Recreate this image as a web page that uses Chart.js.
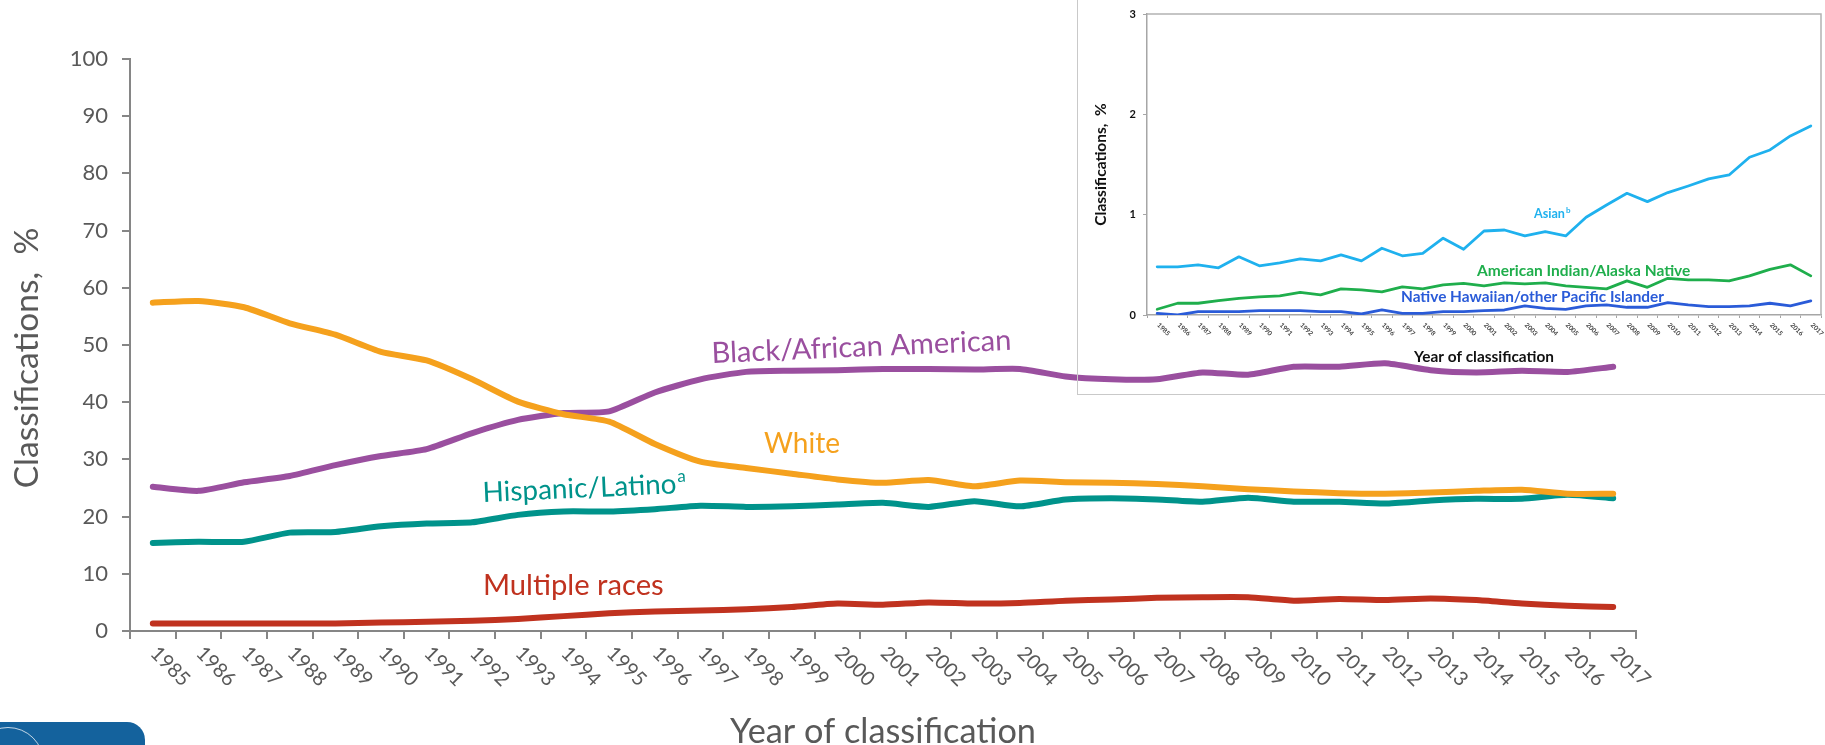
<!DOCTYPE html>
<html>
<head>
<meta charset="utf-8">
<title>Classifications by race/ethnicity</title>
<script src="https://cdn.jsdelivr.net/npm/chart.js@4/dist/chart.umd.min.js"></script>
<style>
  html, body { margin: 0; padding: 0; background: #fff; overflow: hidden; }
  #wrap { position: relative; width: 1825px; height: 745px; }
  #mainChart { position: absolute; left: 0; top: 0; }
  #insetBox { position: absolute; left: 1077px; top: -2px; width: 760px; height: 395px; border: 1px solid #c9c9c9; }
  #insetChart { position: absolute; left: 1078px; top: 0; }
  #logo { position: absolute; left: 0; top: 722px; width: 145px; height: 30px; background: #14629d; border-top-right-radius: 18px; overflow: hidden; }
  #logo div { position: absolute; left: -28px; top: 5px; width: 70px; height: 70px; border-radius: 50%; border: 1px solid rgba(255,255,255,0.75); }
</style>
</head>
<body>
<div id="wrap">
  <canvas id="mainChart" width="1825" height="745"></canvas>
  <div id="insetBox"></div>
  <canvas id="insetChart" width="747" height="393"></canvas>
  <div id="logo"><div></div></div>
</div>
<script>
const YEARS = ['1985','1986','1987','1988','1989','1990','1991','1992','1993','1994','1995',
  '1996','1997','1998','1999','2000','2001','2002','2003','2004','2005','2006','2007',
  '2008','2009','2010','2011','2012','2013','2014','2015','2016','2017'];

// main chart, % of classifications
const WHITE = [57.4, 57.7, 56.6, 53.8, 51.8, 48.8, 47.3, 44.0, 40.1, 37.9, 36.6, 32.7, 29.6, 28.5,
  27.5, 26.5, 25.9, 26.4, 25.3, 26.3, 26.0, 25.9, 25.7, 25.3, 24.8, 24.4, 24.1, 24.0, 24.2, 24.5,
  24.7, 24.0, 24.0];
const BLACK = [25.2, 24.5, 26.0, 27.1, 29.0, 30.6, 31.8, 34.6, 36.9, 38.1, 38.4, 41.7, 44.0, 45.3,
  45.5, 45.6, 45.8, 45.8, 45.7, 45.8, 44.5, 44.0, 44.0, 45.2, 44.8, 46.2, 46.2, 46.8, 45.6, 45.2,
  45.5, 45.3, 46.2];
const HISPANIC = [15.4, 15.6, 15.6, 17.2, 17.3, 18.3, 18.8, 19.0, 20.3, 20.9, 20.9, 21.3, 21.9, 21.7,
  21.8, 22.1, 22.4, 21.7, 22.7, 21.8, 23.0, 23.2, 23.0, 22.6, 23.3, 22.6, 22.6, 22.3, 22.8, 23.1,
  23.1, 23.8, 23.2];
const MULTIPLE = [1.3, 1.3, 1.3, 1.3, 1.3, 1.5, 1.6, 1.8, 2.1, 2.6, 3.1, 3.4, 3.6, 3.8, 4.2, 4.8,
  4.6, 5.0, 4.8, 4.9, 5.3, 5.5, 5.8, 5.9, 5.9, 5.3, 5.6, 5.4, 5.7, 5.4, 4.8, 4.4, 4.2];

// inset chart, % of classifications
const ASIAN = [0.48, 0.48, 0.50, 0.47, 0.58, 0.49, 0.52, 0.56, 0.54, 0.60, 0.54, 0.665, 0.59, 0.615,
  0.765, 0.655, 0.837, 0.847, 0.788, 0.83, 0.788, 0.974, 1.097, 1.213, 1.13, 1.22, 1.286, 1.356,
  1.396, 1.572, 1.645, 1.785, 1.884];
const AIAN = [0.057, 0.117, 0.117, 0.143, 0.166, 0.18, 0.19, 0.225, 0.2, 0.26, 0.25, 0.23, 0.28, 0.26,
  0.30, 0.316, 0.29, 0.32, 0.31, 0.32, 0.29, 0.276, 0.26, 0.34, 0.276, 0.366, 0.35, 0.35, 0.34,
  0.39, 0.455, 0.5, 0.39];
const NHPI = [0.017, 0.0, 0.033, 0.033, 0.033, 0.043, 0.043, 0.043, 0.033, 0.033, 0.01, 0.05, 0.017,
  0.017, 0.033, 0.033, 0.043, 0.05, 0.09, 0.067, 0.057, 0.09, 0.1, 0.077, 0.077, 0.123, 0.1, 0.083,
  0.083, 0.09, 0.117, 0.09, 0.14];

const MAIN_Y_TICKS = { min: 0, max: 100, step: 10 };
const INSET_Y_TICKS = { min: 0, max: 3, step: 1 };

const FONT = 'Lato, "Open Sans", sans-serif';
const GREY_TEXT = '#595959';
const AXIS_GREY = '#868686';

const colors = {
  black: '#9a4f9f',
  white: '#f5a11d',
  hispanic: '#00938b',
  multiple: '#c0321f',
  asian: '#1fb1ee',
  aian: '#1fae4c',
  nhpi: '#2a5bd8'
};

// pick a font size so the text spans the width it has in the original slide
const measureCtx = document.createElement('canvas').getContext('2d');
function fitSize(text, width, weight) {
  measureCtx.font = `${weight || 'normal'} 100px ${FONT}`;
  return Math.round(1000 * width / measureCtx.measureText(text).width) / 10;
}

function drawLabel(ctx, text, x, y, opts) {
  ctx.save();
  ctx.translate(x, y);
  ctx.rotate((opts.angle || 0) * Math.PI / 180);
  ctx.font = `${opts.weight || 'normal'} ${opts.size}px ${FONT}`;
  ctx.fillStyle = opts.color;
  ctx.textAlign = opts.align || 'left';
  ctx.textBaseline = opts.baseline || 'alphabetic';
  ctx.fillText(text, 0, 0);
  if (opts.sup) {
    const w = ctx.measureText(text).width;
    ctx.font = `${opts.weight || 'normal'} ${Math.round(opts.size * 0.62)}px ${FONT}`;
    ctx.fillText(opts.sup, w + 1, -opts.size * 0.4);
  }
  ctx.restore();
}

function lineSet(label, data, color, width) {
  return {
    label: label,
    data: data,
    borderColor: color,
    backgroundColor: color,
    borderWidth: width,
    pointRadius: 0,
    borderCapStyle: 'round',
    borderJoinStyle: 'round',
    fill: false
  };
}

let sizes = {};

function computeSizes() {
  sizes = {
    yTitle: fitSize('Classifications,  %', 261),
    xTitle: fitSize('Year of classification', 306),
    black: fitSize('Black/African American', 300),
    white: fitSize('White', 76),
    hispanic: fitSize('Hispanic/Latino', 194),
    multiple: fitSize('Multiple races', 181),
    insetX: fitSize('Year of classification', 140, 'bold'),
    insetY: fitSize('Classifications,  %', 122, 'bold'),
    asian: fitSize('Asian', 31, 'bold'),
    aian: fitSize('American Indian/Alaska Native', 214, 'bold'),
    nhpi: fitSize('Native Hawaiian/other Pacific Islander', 264, 'bold')
  };
}

const mainLabels = {
  id: 'mainLabels',
  afterDraw(chart) {
    const ctx = chart.ctx;
    const xs = chart.scales.x;

    YEARS.forEach((yr, i) => {
      drawLabel(ctx, yr, xs.getPixelForTick(i) + 1, 650,
        { size: 20, color: GREY_TEXT, angle: 45, baseline: 'middle' });
    });

    drawLabel(ctx, 'Classifications,  %', 27, 358,
      { size: sizes.yTitle, color: GREY_TEXT, angle: -90, align: 'center', baseline: 'middle' });

    drawLabel(ctx, 'Black/African American', 712, 363, { size: sizes.black, color: colors.black, angle: -2.5 });
    drawLabel(ctx, 'White', 764, 453, { size: sizes.white, color: colors.white });
    drawLabel(ctx, 'Hispanic/Latino', 483, 502, { size: sizes.hispanic, color: colors.hispanic, angle: -2.6, sup: 'a' });
    drawLabel(ctx, 'Multiple races', 483, 595, { size: sizes.multiple, color: colors.multiple });
  }
};

const insetLabels = {
  id: 'insetLabels',
  afterDraw(chart) {
    const ctx = chart.ctx;
    const area = chart.chartArea;
    const xs = chart.scales.x;

    ctx.save();
    ctx.strokeStyle = '#b3b3b3';
    ctx.lineWidth = 1.5;
    ctx.beginPath();
    ctx.moveTo(area.left, area.top);
    ctx.lineTo(area.right, area.top);
    ctx.lineTo(area.right, area.bottom);
    ctx.stroke();
    ctx.restore();

    YEARS.forEach((yr, i) => {
      drawLabel(ctx, yr, xs.getPixelForTick(i) + 1, area.bottom + 9,
        { size: 6.5, weight: 'bold', color: '#444', angle: 45, baseline: 'middle' });
    });

    drawLabel(ctx, 'Asian', 456, 218, { size: sizes.asian, weight: 'bold', color: colors.asian, sup: 'b' });
    drawLabel(ctx, 'American Indian/Alaska Native', 399, 276, { size: sizes.aian, weight: 'bold', color: colors.aian });
    drawLabel(ctx, 'Native Hawaiian/other Pacific Islander', 323, 302, { size: sizes.nhpi, weight: 'bold', color: colors.nhpi });
  }
};

function buildMain() {
  const ctx = document.getElementById('mainChart').getContext('2d');
  return new Chart(ctx, {
    type: 'line',
    data: {
      labels: YEARS,
      datasets: [
        lineSet('White', WHITE, colors.white, 6),
        lineSet('Black/African American', BLACK, colors.black, 6),
        lineSet('Hispanic/Latino', HISPANIC, colors.hispanic, 6),
        lineSet('Multiple races', MULTIPLE, colors.multiple, 6)
      ]
    },
    options: {
      responsive: false,
      animation: false,
      events: [],
      elements: { line: { tension: 0.2 } },
      layout: { padding: { left: 0, top: 59, right: 189, bottom: 0 } },
      plugins: { legend: { display: false }, tooltip: { enabled: false } },
      scales: {
        x: {
          offset: true,
          grid: { offset: true, drawOnChartArea: false, tickLength: 8, color: AXIS_GREY, lineWidth: 2 },
          border: { color: AXIS_GREY, width: 2 },
          ticks: { display: false },
          title: {
            display: true,
            text: 'Year of classification',
            color: GREY_TEXT,
            font: { family: FONT, size: sizes.xTitle, lineHeight: 1 },
            padding: { top: 0, bottom: 13 - sizes.xTitle / 2 }
          },
          afterFit: s => { s.height = 114; }
        },
        y: {
          min: MAIN_Y_TICKS.min,
          max: MAIN_Y_TICKS.max,
          grid: { drawOnChartArea: false, tickLength: 8, color: AXIS_GREY, lineWidth: 2 },
          border: { color: AXIS_GREY, width: 2 },
          ticks: {
            stepSize: MAIN_Y_TICKS.step,
            padding: 14,
            color: GREY_TEXT,
            font: { family: FONT, size: 22 }
          },
          afterFit: s => { s.width = 130; }
        }
      }
    },
    plugins: [mainLabels]
  });
}

function buildInset() {
  const ctx = document.getElementById('insetChart').getContext('2d');
  return new Chart(ctx, {
    type: 'line',
    data: {
      labels: YEARS,
      datasets: [
        lineSet('Asian', ASIAN, colors.asian, 2.8),
        lineSet('American Indian/Alaska Native', AIAN, colors.aian, 2.8),
        lineSet('Native Hawaiian/other Pacific Islander', NHPI, colors.nhpi, 2.8)
      ]
    },
    options: {
      responsive: false,
      animation: false,
      events: [],
      elements: { line: { tension: 0 } },
      layout: { padding: { left: 0, top: 14, right: 4, bottom: 0 } },
      plugins: { legend: { display: false }, tooltip: { enabled: false } },
      scales: {
        x: {
          offset: true,
          grid: { offset: true, drawOnChartArea: false, tickLength: 3, color: '#a6a6a6', lineWidth: 1 },
          border: { color: '#a6a6a6', width: 1.5 },
          ticks: { display: false },
          title: {
            display: true,
            text: 'Year of classification',
            color: '#111',
            font: { family: FONT, size: sizes.insetX, weight: 'bold', lineHeight: 1 },
            padding: { top: 0, bottom: 36 - sizes.insetX / 2 }
          },
          afterFit: s => { s.height = 78; }
        },
        y: {
          min: INSET_Y_TICKS.min,
          max: INSET_Y_TICKS.max,
          grid: { drawOnChartArea: false, tickLength: 4, color: '#a6a6a6', lineWidth: 1 },
          border: { color: '#a6a6a6', width: 1.5 },
          ticks: {
            stepSize: INSET_Y_TICKS.step,
            padding: 7,
            color: '#111',
            font: { family: FONT, size: 11, weight: 'bold' }
          },
          title: {
            display: true,
            text: 'Classifications,  %',
            color: '#111',
            font: { family: FONT, size: sizes.insetY, weight: 'bold', lineHeight: 1 },
            padding: { top: 23 - sizes.insetY / 2, bottom: 0 }
          },
          afterFit: s => { s.width = 69; }
        }
      }
    },
    plugins: [insetLabels]
  });
}

Promise.all([
  document.fonts.load(`20px ${FONT}`),
  document.fonts.load(`bold 14px ${FONT}`)
]).catch(() => {}).then(() => {
  computeSizes();
  buildMain();
  buildInset();
});
</script>
</body>
</html>
